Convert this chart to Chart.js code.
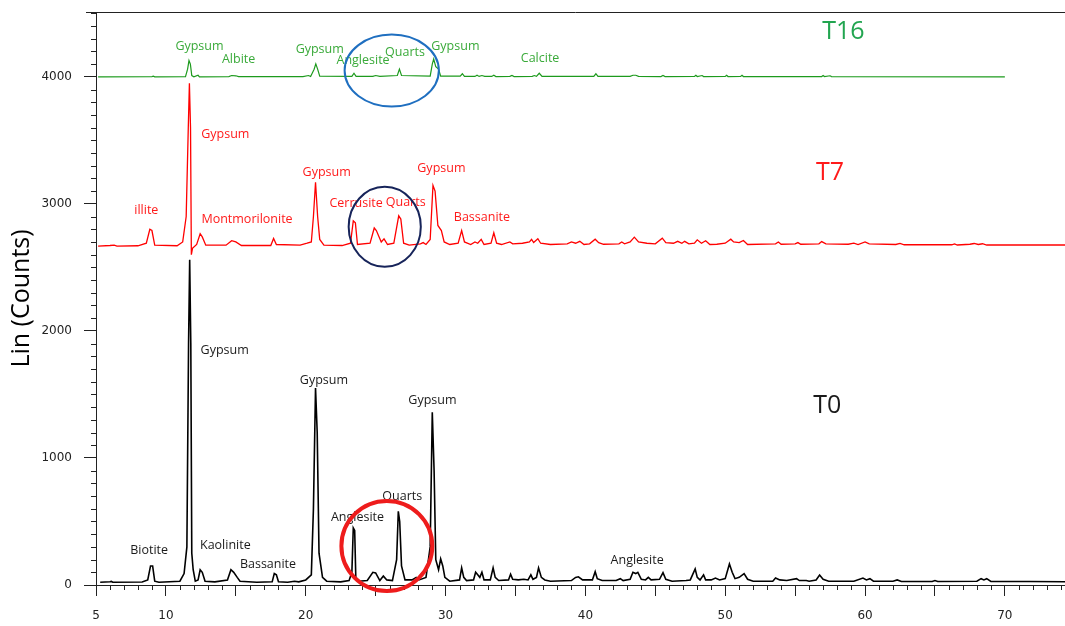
<!DOCTYPE html>
<html>
<head>
<meta charset="utf-8">
<script src="https://cdn.jsdelivr.net/npm/chart.js@4.4.1/dist/chart.umd.min.js"></script>
<style>
    body { margin: 0; background: #fff; }
    #box { width: 1065px; height: 626px; }
</style>
</head>
<body>
<div id="box"><canvas id="myChart"></canvas></div>
<script>
// 2-theta / counts
const t0Angle = [5.3, 6.0, 6.1, 6.2, 8.3, 8.7, 8.9, 9.05, 9.2, 9.5, 11.0, 11.3, 11.5, 11.62, 11.7, 11.78, 11.85, 11.95, 12.1, 12.3, 12.45, 12.6, 12.8, 13.5, 14.4, 14.65, 14.85, 15.1, 15.3, 16.5, 17.6, 17.75, 17.9, 18.05, 18.7, 19.2, 19.5, 20.0, 20.4, 20.55, 20.7, 20.82, 20.95, 21.2, 21.5, 22.5, 23.1, 23.3, 23.4, 23.5, 23.58, 23.8, 24.4, 24.8, 25.0, 25.3, 25.55, 25.8, 26.2, 26.5, 26.62, 26.72, 26.85, 27.1, 27.6, 27.9, 28.1, 28.6, 28.9, 29.05, 29.18, 29.3, 29.5, 29.65, 29.8, 29.95, 30.3, 31.0, 31.15, 31.3, 31.5, 32.0, 32.15, 32.3, 32.45, 32.6, 32.75, 33.2, 33.4, 33.55, 33.8, 34.5, 34.65, 34.8, 35.2, 35.6, 35.9, 36.1, 36.25, 36.5, 36.65, 36.85, 37.1, 37.5, 39.0, 39.3, 39.5, 39.8, 40.5, 40.7, 40.85, 41.2, 42.2, 42.5, 42.7, 43.2, 43.4, 43.6, 43.75, 44.0, 44.3, 44.5, 44.7, 45.3, 45.55, 45.75, 46.2, 47.2, 47.5, 47.85, 48.0, 48.2, 48.45, 48.6, 49.0, 49.3, 49.6, 50.0, 50.3, 50.5, 50.7, 51.0, 51.35, 51.6, 52.0, 53.4, 53.6, 53.9, 54.4, 55.1, 55.3, 55.8, 56.0, 56.5, 56.75, 57.0, 57.4, 59.2, 59.85, 60.1, 60.35, 60.6, 62.0, 62.3, 62.6, 64.8, 65.0, 65.2, 68.0, 68.3, 68.5, 68.7, 69.0, 71.8, 74.5];
const t0Counts = [22, 25, 28, 22, 24, 40, 150, 150, 30, 22, 30, 90, 300, 1900, 2560, 1900, 250, 120, 30, 40, 120, 100, 30, 25, 40, 120, 100, 60, 30, 22, 25, 90, 80, 25, 22, 30, 25, 40, 80, 600, 1550, 1200, 250, 60, 30, 25, 35, 100, 450, 430, 60, 30, 35, 100, 95, 35, 70, 40, 35, 200, 580, 500, 150, 40, 40, 60, 40, 60, 300, 1360, 900, 200, 120, 205, 150, 60, 30, 40, 135, 60, 35, 40, 100, 80, 60, 100, 40, 40, 135, 60, 35, 40, 85, 45, 40, 45, 40, 80, 45, 60, 135, 60, 40, 30, 35, 60, 65, 40, 40, 105, 50, 35, 35, 50, 35, 45, 100, 90, 100, 45, 40, 60, 40, 45, 97, 45, 30, 35, 40, 126, 60, 40, 80, 40, 40, 55, 40, 50, 165, 100, 50, 60, 90, 45, 30, 30, 55, 40, 35, 50, 35, 35, 30, 40, 78, 45, 30, 30, 55, 40, 50, 30, 30, 40, 28, 28, 35, 28, 30, 50, 40, 50, 28, 28, 25];

const t7Angle = [5.15, 6.0, 6.3, 6.5, 8.0, 8.6, 8.85, 9.0, 9.2, 10.8, 11.2, 11.45, 11.6, 11.68, 11.76, 11.82, 11.9, 12.2, 12.45, 12.6, 12.85, 14.3, 14.7, 15.0, 15.4, 17.5, 17.7, 17.9, 19.6, 20.1, 20.4, 20.55, 20.7, 20.85, 21.0, 21.3, 22.6, 23.2, 23.4, 23.55, 23.7, 24.6, 24.9, 25.05, 25.4, 25.6, 25.85, 26.3, 26.65, 26.8, 27.0, 27.4, 28.2, 28.4, 28.6, 28.9, 29.1, 29.25, 29.45, 29.7, 29.9, 30.3, 30.9, 31.15, 31.35, 31.8, 32.1, 32.3, 32.55, 32.75, 33.25, 33.45, 33.65, 34.0, 34.6, 34.8, 35.5, 36.0, 36.15, 36.3, 36.6, 36.8, 37.5, 38.7, 39.0, 39.3, 39.6, 39.9, 40.3, 40.7, 40.95, 41.3, 42.4, 42.6, 42.8, 43.2, 43.5, 43.8, 44.4, 45.0, 45.5, 45.75, 46.3, 46.6, 46.9, 47.1, 47.4, 47.8, 48.0, 48.3, 48.6, 48.9, 49.4, 50.0, 50.4, 50.6, 51.0, 51.3, 51.6, 53.6, 53.8, 54.0, 55.0, 55.2, 55.4, 56.7, 56.9, 57.2, 58.8, 59.2, 59.5, 60.0, 60.3, 62.2, 62.5, 62.8, 66.2, 66.4, 66.6, 67.5, 67.8, 68.1, 68.4, 68.7, 70.2, 74.5];
const t7Counts = [2668, 2672, 2675, 2668, 2670, 2690, 2800, 2790, 2675, 2670, 2700, 2900, 3600, 3950, 3600, 2600, 2650, 2680, 2765, 2740, 2675, 2675, 2710, 2700, 2672, 2672, 2728, 2680, 2675, 2690, 2700, 2900, 3170, 2900, 2720, 2675, 2672, 2690, 2866, 2850, 2680, 2690, 2810, 2790, 2700, 2725, 2680, 2690, 2906, 2880, 2690, 2675, 2685, 2695, 2680, 2720, 3145, 3100, 2830, 2790, 2700, 2680, 2690, 2790, 2700, 2680, 2700, 2690, 2720, 2680, 2690, 2772, 2690, 2680, 2700, 2685, 2690, 2700, 2720, 2695, 2726, 2690, 2680, 2685, 2700, 2690, 2705, 2680, 2685, 2722, 2695, 2682, 2685, 2700, 2685, 2700, 2738, 2700, 2690, 2685, 2730, 2695, 2690, 2705, 2690, 2705, 2685, 2690, 2717, 2690, 2710, 2680, 2682, 2690, 2722, 2700, 2695, 2712, 2680, 2685, 2700, 2682, 2685, 2695, 2682, 2685, 2703, 2685, 2682, 2690, 2680, 2700, 2685, 2680, 2688, 2678, 2678, 2685, 2676, 2682, 2688, 2680, 2686, 2676, 2676, 2676];

const t16Angle = [5.15, 9.0, 9.1, 9.2, 11.4, 11.55, 11.65, 11.75, 11.85, 12.0, 12.3, 12.4, 14.5, 14.7, 15.0, 15.2, 19.8, 20.2, 20.35, 20.6, 20.72, 20.85, 21.0, 23.3, 23.45, 23.6, 24.8, 25.0, 25.3, 26.55, 26.7, 26.85, 28.9, 29.05, 29.15, 29.3, 29.5, 29.65, 31.05, 31.2, 31.35, 32.1, 32.25, 32.4, 32.6, 32.8, 33.3, 33.45, 33.6, 34.6, 34.75, 34.9, 36.2, 36.35, 36.5, 36.7, 36.9, 40.6, 40.75, 40.9, 43.2, 43.4, 43.6, 43.8, 45.4, 45.55, 45.7, 47.8, 47.9, 48.0, 48.35, 48.45, 50.0, 50.1, 50.2, 51.1, 51.2, 51.3, 56.9, 57.0, 57.1, 57.5, 57.6, 70.0];
const t16Counts = [4000, 4002, 4005, 4000, 4002, 4060, 4128, 4100, 4010, 4000, 4012, 4000, 4002, 4010, 4008, 4001, 4002, 4010, 4002, 4060, 4102, 4060, 4005, 4003, 4028, 4003, 4003, 4010, 4003, 4010, 4060, 4010, 4005, 4100, 4140, 4080, 4060, 4005, 4005, 4024, 4003, 4003, 4012, 4003, 4010, 4003, 4003, 4012, 4002, 4003, 4010, 4002, 4003, 4010, 4004, 4028, 4003, 4004, 4024, 4003, 4003, 4012, 4012, 4003, 4002, 4010, 4002, 4003, 4012, 4002, 4010, 4002, 4003, 4012, 4002, 4003, 4012, 4002, 4002, 4010, 4002, 4008, 4002, 4000];

// phase labels
const t0Labels = ['Biotite', 'Gypsum', 'Kaolinite', 'Bassanite', 'Gypsum', 'Anglesite', 'Quarts', 'Gypsum', 'Anglesite', 'T0'];
const t0LabelAngle = [8.8, 14.2, 14.25, 17.3, 21.3, 23.7, 26.9, 29.06, 43.7, 57.3];
const t0LabelCounts = [270, 1850, 315, 165, 1609, 535, 695, 1449, 197, 1409];

const t7Labels = ['illite', 'Gypsum', 'Montmorilonite', 'Gypsum', 'Cerrusite', 'Quarts', 'Gypsum', 'Bassanite', 'T7'];
const t7LabelAngle = [8.6, 14.25, 15.8, 21.5, 23.6, 27.15, 29.7, 32.6, 57.5];
const t7LabelCounts = [2947, 3549, 2874, 3250, 3005, 3012, 3281, 2892, 3242];

const t16Labels = ['Gypsum', 'Albite', 'Gypsum', 'Anglesite', 'Quarts', 'Gypsum', 'Calcite', 'T16'];
const t16LabelAngle = [12.4, 15.2, 21.0, 24.1, 27.1, 30.7, 36.76, 58.45];
const t16LabelCounts = [4239, 4134, 4213, 4128, 4194, 4239, 4142, 4352];

const xTickLabels = [5, 10, 15, 20, 25, 30, 35, 40, 45, 50, 55, 60, 65, 70];
const yTickLabels = [0, 1000, 2000, 3000, 4000];

function toPoints(xs, ys) {
    return xs.map((v, i) => ({ x: v, y: ys[i] }));
}

// highlight rings, in data units
const rings = [
    { x: 26.15, y: 4049, rx: 3.37, ry: 283, color: '#1f6fc0', width: 2 },
    { x: 25.65, y: 2819, rx: 2.58, ry: 315, color: '#17245a', width: 2 },
    { x: 25.8, y: 307, rx: 3.25, ry: 354, color: '#ee1c1c', width: 4 }
];

const extras = {
    id: 'extras',
    afterDatasetsDraw(chart) {
        const c = chart.ctx;
        const xs = chart.scales.x;
        const ys = chart.scales.y;
        const area = chart.chartArea;
        c.save();
        c.strokeStyle = '#222';
        c.lineWidth = 1;
        c.beginPath();
        c.moveTo(86, area.top + 0.5);
        c.lineTo(area.right, area.top + 0.5);
        // minor ticks
        for (let v = 6; v <= 74; v++) {
            if (v % 5 === 0) continue;
            let px = Math.round(xs.getPixelForValue(v)) + 0.5;
            c.moveTo(px, area.bottom);
            c.lineTo(px, area.bottom + 5);
        }
        for (let v = 100; v <= 4500; v += 100) {
            if (v % 1000 === 0) continue;
            let py = Math.round(ys.getPixelForValue(v)) + 0.5;
            c.moveTo(area.left - 5, py);
            c.lineTo(area.left, py);
        }
        c.stroke();

        c.textAlign = 'center';
        c.textBaseline = 'middle';
        const groups = [
            [t0Labels, t0LabelAngle, t0LabelCounts, '#1a1a1a'],
            [t7Labels, t7LabelAngle, t7LabelCounts, '#ff1a1a'],
            [t16Labels, t16LabelAngle, t16LabelCounts, '#3aaa3a']
        ];
        groups.forEach(g => {
            for (let i = 0; i < g[0].length; i++) {
                let big = g[0][i].charAt(0) === 'T' && g[0][i].length <= 3;
                c.font = big ? '25px "Open Sans"' : '12.5px "Open Sans"';
                c.fillStyle = big && g[0][i] === 'T16' ? '#22a550' : g[3];
                c.fillText(g[0][i], xs.getPixelForValue(g[1][i]), ys.getPixelForValue(g[2][i]));
            }
        });

        rings.forEach(r => {
            let cx = xs.getPixelForValue(r.x);
            let cy = ys.getPixelForValue(r.y);
            let rx = xs.getPixelForValue(r.x + r.rx) - cx;
            let ry = cy - ys.getPixelForValue(r.y + r.ry);
            c.beginPath();
            c.strokeStyle = r.color;
            c.lineWidth = r.width;
            c.ellipse(cx, cy, rx, ry, 0, 0, Math.PI * 2);
            c.stroke();
        });
        c.restore();
    }
};

let myChart
function init() {
    Chart.defaults.font.family = '"DejaVu Sans"';
    Chart.defaults.font.size = 12;
    Chart.defaults.color = '#222';

    const ctx = document.getElementById('myChart').getContext('2d');
    myChart = new Chart(ctx, {
        type: 'line',
        data: {
            datasets: [{
                label: 'T16',
                data: toPoints(t16Angle, t16Counts),
                borderColor: '#1d9a1d',
                borderWidth: 1.2
            }, {
                label: 'T7',
                data: toPoints(t7Angle, t7Counts),
                borderColor: '#ff0000',
                borderWidth: 1.3
            }, {
                label: 'T0',
                data: toPoints(t0Angle, t0Counts),
                borderColor: '#000000',
                borderWidth: 1.6
            }]
        },
        options: {
            responsive: true,
            maintainAspectRatio: false,
            animation: false,
            layout: { padding: { top: 12, right: 0, left: 0, bottom: 0 } },
            elements: {
                point: { radius: 0 },
                line: { tension: 0 }
            },
            plugins: {
                legend: { display: false },
                tooltip: { enabled: false }
            },
            scales: {
                x: {
                    type: 'linear',
                    min: 5,
                    max: 74.3,
                    afterBuildTicks: s => { s.ticks = xTickLabels.map(v => ({ value: v })); },
                    afterFit: s => {
                        s.height = 41;
                        s.paddingLeft = 0;
                        s.paddingRight = 0;
                    },
                    grid: {
                        drawOnChartArea: false,
                        tickLength: 11,
                        color: '#222'
                    },
                    border: { color: '#222', width: 1 },
                    ticks: {
                        padding: 13,
                        maxRotation: 0,
                        autoSkip: false,
                        callback: v => (v === 5 || v % 10 === 0) ? String(v) : ''
                    }
                },
                y: {
                    min: 0,
                    max: 4510,
                    afterBuildTicks: s => { s.ticks = yTickLabels.map(v => ({ value: v })); },
                    afterFit: s => {
                        s.width = 96;
                        s.paddingTop = 0;
                        s.paddingBottom = 0;
                    },
                    grid: {
                        drawOnChartArea: false,
                        tickLength: 12,
                        color: '#222'
                    },
                    border: { color: '#222', width: 1 },
                    ticks: {
                        padding: 12,
                        callback: v => String(v)
                    },
                    title: {
                        display: true,
                        text: 'Lin (Counts)',
                        color: '#000',
                        font: { family: '"Open Sans"', size: 25 },
                        padding: { top: 7, bottom: 0 }
                    }
                }
            }
        },
        plugins: [extras]
    });
}

init();
</script>
</body>
</html>
